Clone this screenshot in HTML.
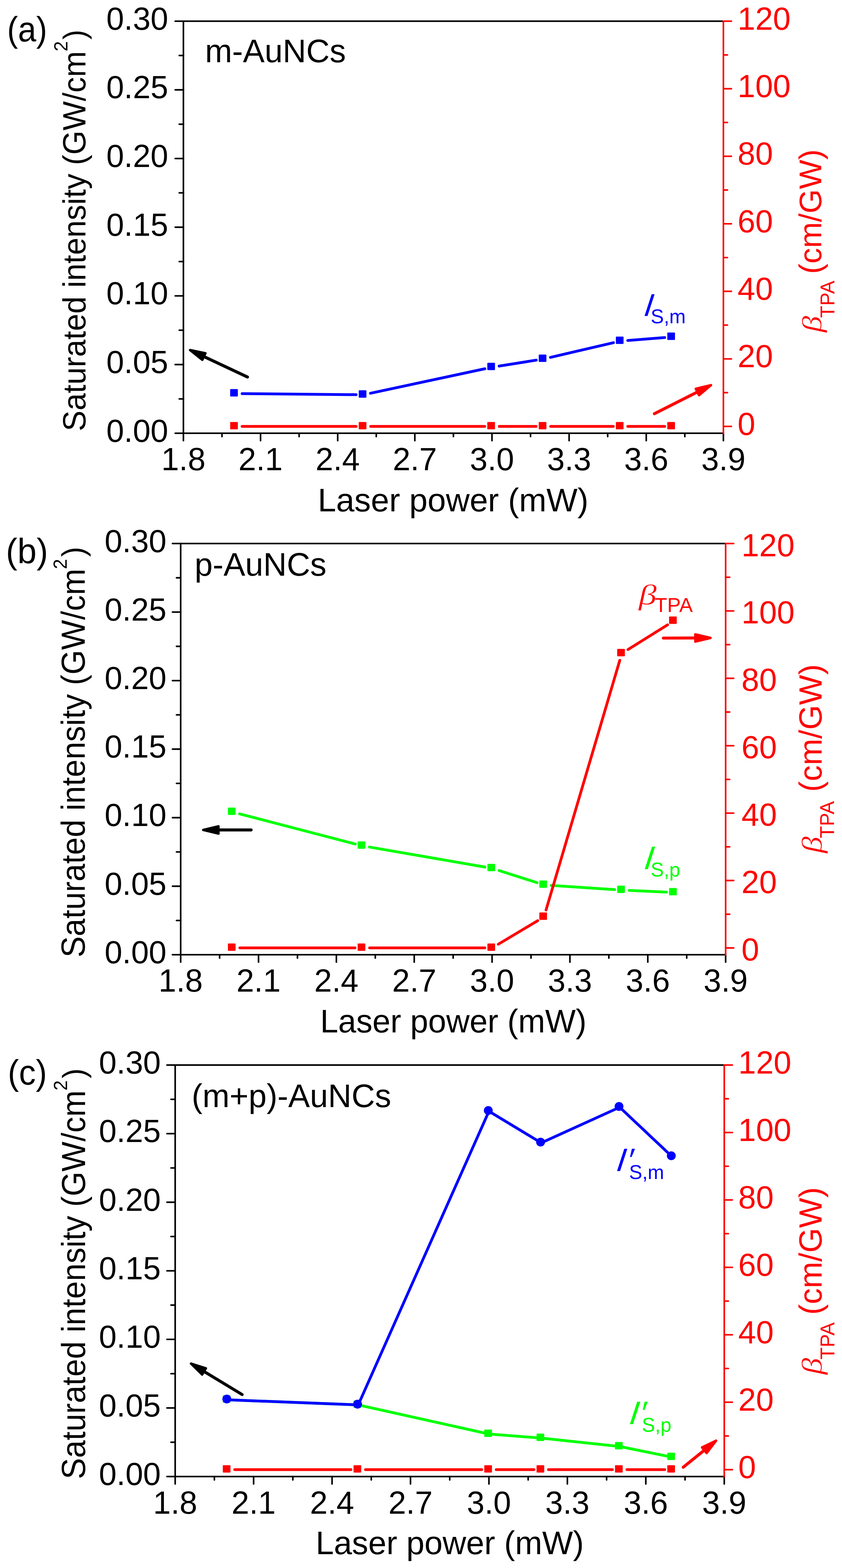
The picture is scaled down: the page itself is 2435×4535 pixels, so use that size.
<!DOCTYPE html>
<html><head><meta charset="utf-8"><title>Saturated intensity vs laser power</title>
<style>html,body{margin:0;padding:0;background:#fff;}svg{display:block;}</style>
</head><body>
<svg width="2435" height="4535" viewBox="0 0 2435 4535">
<rect width="2435" height="4535" fill="#fff"/>
<line x1="506.6" y1="1253" x2="530.4" y2="1253" stroke="#000000" stroke-width="4.6" stroke-linecap="round"/>
<text x="486.5" y="1277.5" font-family="'Liberation Sans', Arial, sans-serif" font-size="92" fill="#000000" text-anchor="end">0.00</text>
<line x1="506.6" y1="1054.38" x2="530.4" y2="1054.38" stroke="#000000" stroke-width="4.6" stroke-linecap="round"/>
<text x="486.5" y="1078.88" font-family="'Liberation Sans', Arial, sans-serif" font-size="92" fill="#000000" text-anchor="end">0.05</text>
<line x1="506.6" y1="855.75" x2="530.4" y2="855.75" stroke="#000000" stroke-width="4.6" stroke-linecap="round"/>
<text x="486.5" y="880.25" font-family="'Liberation Sans', Arial, sans-serif" font-size="92" fill="#000000" text-anchor="end">0.10</text>
<line x1="506.6" y1="657.12" x2="530.4" y2="657.12" stroke="#000000" stroke-width="4.6" stroke-linecap="round"/>
<text x="486.5" y="681.62" font-family="'Liberation Sans', Arial, sans-serif" font-size="92" fill="#000000" text-anchor="end">0.15</text>
<line x1="506.6" y1="458.5" x2="530.4" y2="458.5" stroke="#000000" stroke-width="4.6" stroke-linecap="round"/>
<text x="486.5" y="483" font-family="'Liberation Sans', Arial, sans-serif" font-size="92" fill="#000000" text-anchor="end">0.20</text>
<line x1="506.6" y1="259.88" x2="530.4" y2="259.88" stroke="#000000" stroke-width="4.6" stroke-linecap="round"/>
<text x="486.5" y="284.38" font-family="'Liberation Sans', Arial, sans-serif" font-size="92" fill="#000000" text-anchor="end">0.25</text>
<line x1="506.6" y1="61.25" x2="530.4" y2="61.25" stroke="#000000" stroke-width="4.6" stroke-linecap="round"/>
<text x="486.5" y="85.75" font-family="'Liberation Sans', Arial, sans-serif" font-size="92" fill="#000000" text-anchor="end">0.30</text>
<line x1="518.3" y1="1153.69" x2="530.4" y2="1153.69" stroke="#000000" stroke-width="4.6" stroke-linecap="round"/>
<line x1="518.3" y1="955.06" x2="530.4" y2="955.06" stroke="#000000" stroke-width="4.6" stroke-linecap="round"/>
<line x1="518.3" y1="756.44" x2="530.4" y2="756.44" stroke="#000000" stroke-width="4.6" stroke-linecap="round"/>
<line x1="518.3" y1="557.81" x2="530.4" y2="557.81" stroke="#000000" stroke-width="4.6" stroke-linecap="round"/>
<line x1="518.3" y1="359.19" x2="530.4" y2="359.19" stroke="#000000" stroke-width="4.6" stroke-linecap="round"/>
<line x1="518.3" y1="160.56" x2="530.4" y2="160.56" stroke="#000000" stroke-width="4.6" stroke-linecap="round"/>
<line x1="530.4" y1="1253" x2="530.4" y2="1274.4" stroke="#000000" stroke-width="4.6" stroke-linecap="round"/>
<text x="530.4" y="1360" font-family="'Liberation Sans', Arial, sans-serif" font-size="92" fill="#000000" text-anchor="middle">1.8</text>
<line x1="753.49" y1="1253" x2="753.49" y2="1274.4" stroke="#000000" stroke-width="4.6" stroke-linecap="round"/>
<text x="753.49" y="1360" font-family="'Liberation Sans', Arial, sans-serif" font-size="92" fill="#000000" text-anchor="middle">2.1</text>
<line x1="976.57" y1="1253" x2="976.57" y2="1274.4" stroke="#000000" stroke-width="4.6" stroke-linecap="round"/>
<text x="976.57" y="1360" font-family="'Liberation Sans', Arial, sans-serif" font-size="92" fill="#000000" text-anchor="middle">2.4</text>
<line x1="1199.66" y1="1253" x2="1199.66" y2="1274.4" stroke="#000000" stroke-width="4.6" stroke-linecap="round"/>
<text x="1199.66" y="1360" font-family="'Liberation Sans', Arial, sans-serif" font-size="92" fill="#000000" text-anchor="middle">2.7</text>
<line x1="1422.74" y1="1253" x2="1422.74" y2="1274.4" stroke="#000000" stroke-width="4.6" stroke-linecap="round"/>
<text x="1422.74" y="1360" font-family="'Liberation Sans', Arial, sans-serif" font-size="92" fill="#000000" text-anchor="middle">3.0</text>
<line x1="1645.83" y1="1253" x2="1645.83" y2="1274.4" stroke="#000000" stroke-width="4.6" stroke-linecap="round"/>
<text x="1645.83" y="1360" font-family="'Liberation Sans', Arial, sans-serif" font-size="92" fill="#000000" text-anchor="middle">3.3</text>
<line x1="1868.91" y1="1253" x2="1868.91" y2="1274.4" stroke="#000000" stroke-width="4.6" stroke-linecap="round"/>
<text x="1868.91" y="1360" font-family="'Liberation Sans', Arial, sans-serif" font-size="92" fill="#000000" text-anchor="middle">3.6</text>
<line x1="2092" y1="1253" x2="2092" y2="1274.4" stroke="#000000" stroke-width="4.6" stroke-linecap="round"/>
<text x="2092" y="1360" font-family="'Liberation Sans', Arial, sans-serif" font-size="92" fill="#000000" text-anchor="middle">3.9</text>
<line x1="641.94" y1="1253" x2="641.94" y2="1262.8" stroke="#000000" stroke-width="4.6" stroke-linecap="round"/>
<line x1="865.03" y1="1253" x2="865.03" y2="1262.8" stroke="#000000" stroke-width="4.6" stroke-linecap="round"/>
<line x1="1088.11" y1="1253" x2="1088.11" y2="1262.8" stroke="#000000" stroke-width="4.6" stroke-linecap="round"/>
<line x1="1311.2" y1="1253" x2="1311.2" y2="1262.8" stroke="#000000" stroke-width="4.6" stroke-linecap="round"/>
<line x1="1534.29" y1="1253" x2="1534.29" y2="1262.8" stroke="#000000" stroke-width="4.6" stroke-linecap="round"/>
<line x1="1757.37" y1="1253" x2="1757.37" y2="1262.8" stroke="#000000" stroke-width="4.6" stroke-linecap="round"/>
<line x1="1980.46" y1="1253" x2="1980.46" y2="1262.8" stroke="#000000" stroke-width="4.6" stroke-linecap="round"/>
<line x1="530.4" y1="61.25" x2="2092" y2="61.25" stroke="#000000" stroke-width="4.6" stroke-linecap="butt"/>
<line x1="530.4" y1="1253" x2="2092" y2="1253" stroke="#000000" stroke-width="4.6" stroke-linecap="butt"/>
<line x1="530.4" y1="58.95" x2="530.4" y2="1255.3" stroke="#000000" stroke-width="4.6" stroke-linecap="butt"/>
<line x1="2092" y1="1233.3" x2="2115.3" y2="1233.3" stroke="#ff0000" stroke-width="4.6" stroke-linecap="round"/>
<text x="2133" y="1257.6" font-family="'Liberation Sans', Arial, sans-serif" font-size="92" fill="#ff0000" text-anchor="start">0</text>
<line x1="2092" y1="1037.96" x2="2115.3" y2="1037.96" stroke="#ff0000" stroke-width="4.6" stroke-linecap="round"/>
<text x="2133" y="1062.26" font-family="'Liberation Sans', Arial, sans-serif" font-size="92" fill="#ff0000" text-anchor="start">20</text>
<line x1="2092" y1="842.62" x2="2115.3" y2="842.62" stroke="#ff0000" stroke-width="4.6" stroke-linecap="round"/>
<text x="2133" y="866.92" font-family="'Liberation Sans', Arial, sans-serif" font-size="92" fill="#ff0000" text-anchor="start">40</text>
<line x1="2092" y1="647.27" x2="2115.3" y2="647.27" stroke="#ff0000" stroke-width="4.6" stroke-linecap="round"/>
<text x="2133" y="671.57" font-family="'Liberation Sans', Arial, sans-serif" font-size="92" fill="#ff0000" text-anchor="start">60</text>
<line x1="2092" y1="451.93" x2="2115.3" y2="451.93" stroke="#ff0000" stroke-width="4.6" stroke-linecap="round"/>
<text x="2133" y="476.23" font-family="'Liberation Sans', Arial, sans-serif" font-size="92" fill="#ff0000" text-anchor="start">80</text>
<line x1="2092" y1="256.59" x2="2115.3" y2="256.59" stroke="#ff0000" stroke-width="4.6" stroke-linecap="round"/>
<text x="2133" y="280.89" font-family="'Liberation Sans', Arial, sans-serif" font-size="92" fill="#ff0000" text-anchor="start">100</text>
<line x1="2092" y1="61.25" x2="2115.3" y2="61.25" stroke="#ff0000" stroke-width="4.6" stroke-linecap="round"/>
<text x="2133" y="85.55" font-family="'Liberation Sans', Arial, sans-serif" font-size="92" fill="#ff0000" text-anchor="start">120</text>
<line x1="2092" y1="1135.63" x2="2103.7" y2="1135.63" stroke="#ff0000" stroke-width="4.6" stroke-linecap="round"/>
<line x1="2092" y1="940.29" x2="2103.7" y2="940.29" stroke="#ff0000" stroke-width="4.6" stroke-linecap="round"/>
<line x1="2092" y1="744.95" x2="2103.7" y2="744.95" stroke="#ff0000" stroke-width="4.6" stroke-linecap="round"/>
<line x1="2092" y1="549.6" x2="2103.7" y2="549.6" stroke="#ff0000" stroke-width="4.6" stroke-linecap="round"/>
<line x1="2092" y1="354.26" x2="2103.7" y2="354.26" stroke="#ff0000" stroke-width="4.6" stroke-linecap="round"/>
<line x1="2092" y1="158.92" x2="2103.7" y2="158.92" stroke="#ff0000" stroke-width="4.6" stroke-linecap="round"/>
<line x1="2092" y1="58.95" x2="2092" y2="1255.3" stroke="#ff0000" stroke-width="4.6" stroke-linecap="butt"/>
<text transform="translate(247.2,1247.3) rotate(-90) scale(1,1.04)" font-family="'Liberation Sans', Arial, sans-serif" font-size="89.94" fill="#000000">Saturated intensity (GW/cm</text>
<text transform="translate(195.2,148.68) rotate(-90) scale(1,1.04)" font-family="'Liberation Sans', Arial, sans-serif" font-size="53.57" fill="#000000">2</text>
<text transform="translate(246.3,114.57) rotate(-90) scale(1,1.04)" font-family="'Liberation Sans', Arial, sans-serif" font-size="85.83" fill="#000000">)</text>
<text transform="translate(2375.1,792.31) rotate(-90)" font-family="'Liberation Sans', Arial, sans-serif" font-size="90.1" fill="#ff0000">(cm/GW)</text>
<text transform="translate(2374.88,961.57) rotate(-90) scale(1.2,1)" font-family="'Liberation Serif', 'Times New Roman', serif" font-style="italic" font-size="80.55" fill="#ff0000" stroke="#fff" stroke-width="0.9">&#946;</text>
<text transform="translate(2412.8,919.25) rotate(-90)" font-family="'Liberation Sans', Arial, sans-serif" font-size="57.5" fill="#ff0000">TPA</text>
<text x="918.98" y="1478.5" font-family="'Liberation Sans', Arial, sans-serif" font-size="95.2" fill="#000000" text-anchor="start">Laser power (mW)</text>
<text transform="translate(20.4,119.6) scale(0.931,1)" font-family="'Liberation Sans', Arial, sans-serif" font-size="102" fill="#000000">(a)</text>
<text x="593" y="179.7" font-family="'Liberation Sans', Arial, sans-serif" font-size="94" fill="#000000" text-anchor="start">m-AuNCs</text>
<line x1="700.12" y1="1233.3" x2="1029.93" y2="1233.3" stroke="#ff0000" stroke-width="8.0" stroke-linecap="round"/>
<line x1="1071.93" y1="1233.3" x2="1401.74" y2="1233.3" stroke="#ff0000" stroke-width="8.0" stroke-linecap="round"/>
<line x1="1443.74" y1="1233.3" x2="1550.47" y2="1233.3" stroke="#ff0000" stroke-width="8.0" stroke-linecap="round"/>
<line x1="1592.47" y1="1233.3" x2="1773.55" y2="1233.3" stroke="#ff0000" stroke-width="8.0" stroke-linecap="round"/>
<line x1="1815.55" y1="1233.3" x2="1922.28" y2="1233.3" stroke="#ff0000" stroke-width="8.0" stroke-linecap="round"/>
<rect x="665.62" y="1220.4" width="22.2" height="21.4" rx="1.8" fill="#ff0000"/>
<rect x="1037.43" y="1220.4" width="22.2" height="21.4" rx="1.8" fill="#ff0000"/>
<rect x="1409.24" y="1220.4" width="22.2" height="21.4" rx="1.8" fill="#ff0000"/>
<rect x="1557.97" y="1220.4" width="22.2" height="21.4" rx="1.8" fill="#ff0000"/>
<rect x="1781.05" y="1220.4" width="22.2" height="21.4" rx="1.8" fill="#ff0000"/>
<rect x="1929.78" y="1220.4" width="22.2" height="21.4" rx="1.8" fill="#ff0000"/>
<line x1="700.12" y1="1138.4" x2="1029.93" y2="1141.5" stroke="#0000ff" stroke-width="8.0" stroke-linecap="round"/>
<line x1="1071.47" y1="1137.3" x2="1402.21" y2="1066.5" stroke="#0000ff" stroke-width="8.0" stroke-linecap="round"/>
<line x1="1443.48" y1="1058.78" x2="1550.73" y2="1041.62" stroke="#0000ff" stroke-width="8.0" stroke-linecap="round"/>
<line x1="1591.92" y1="1033.53" x2="1774.1" y2="991.07" stroke="#0000ff" stroke-width="8.0" stroke-linecap="round"/>
<line x1="1815.49" y1="984.67" x2="1922.34" y2="976.33" stroke="#0000ff" stroke-width="8.0" stroke-linecap="round"/>
<rect x="665.62" y="1125.3" width="22.2" height="21.4" rx="1.8" fill="#0000ff"/>
<rect x="1037.43" y="1128.8" width="22.2" height="21.4" rx="1.8" fill="#0000ff"/>
<rect x="1409.24" y="1049.2" width="22.2" height="21.4" rx="1.8" fill="#0000ff"/>
<rect x="1557.97" y="1025.4" width="22.2" height="21.4" rx="1.8" fill="#0000ff"/>
<rect x="1781.05" y="973.4" width="22.2" height="21.4" rx="1.8" fill="#0000ff"/>
<rect x="1929.78" y="961.8" width="22.2" height="21.4" rx="1.8" fill="#0000ff"/>
<text transform="translate(1855.44,913.5) skewX(-18)" font-family="'Liberation Sans', Arial, sans-serif" font-size="91.74" fill="#0000ff">I</text>
<text x="1881.65" y="935.3" font-family="'Liberation Sans', Arial, sans-serif" font-size="57" fill="#0000ff">S,m</text>
<line x1="715.8" y1="1090.5" x2="585.97" y2="1029.5" stroke="#000000" stroke-width="8.6" stroke-linecap="round"/>
<polygon points="549.77,1012.49 594.06,1021.7 585.13,1040.7" fill="#000000" stroke="#000000" stroke-width="7" stroke-linejoin="round"/>
<line x1="1892.3" y1="1196.6" x2="2020.47" y2="1131.9" stroke="#ff0000" stroke-width="8.6" stroke-linecap="round"/>
<polygon points="2056.18,1113.88 2021.63,1143.08 2012.16,1124.33" fill="#ff0000" stroke="#ff0000" stroke-width="7" stroke-linejoin="round"/>
<line x1="498.7" y1="2761.3" x2="522.5" y2="2761.3" stroke="#000000" stroke-width="4.6" stroke-linecap="round"/>
<text x="481.5" y="2785.8" font-family="'Liberation Sans', Arial, sans-serif" font-size="92" fill="#000000" text-anchor="end">0.00</text>
<line x1="498.7" y1="2563.08" x2="522.5" y2="2563.08" stroke="#000000" stroke-width="4.6" stroke-linecap="round"/>
<text x="481.5" y="2587.58" font-family="'Liberation Sans', Arial, sans-serif" font-size="92" fill="#000000" text-anchor="end">0.05</text>
<line x1="498.7" y1="2364.87" x2="522.5" y2="2364.87" stroke="#000000" stroke-width="4.6" stroke-linecap="round"/>
<text x="481.5" y="2389.37" font-family="'Liberation Sans', Arial, sans-serif" font-size="92" fill="#000000" text-anchor="end">0.10</text>
<line x1="498.7" y1="2166.65" x2="522.5" y2="2166.65" stroke="#000000" stroke-width="4.6" stroke-linecap="round"/>
<text x="481.5" y="2191.15" font-family="'Liberation Sans', Arial, sans-serif" font-size="92" fill="#000000" text-anchor="end">0.15</text>
<line x1="498.7" y1="1968.43" x2="522.5" y2="1968.43" stroke="#000000" stroke-width="4.6" stroke-linecap="round"/>
<text x="481.5" y="1992.93" font-family="'Liberation Sans', Arial, sans-serif" font-size="92" fill="#000000" text-anchor="end">0.20</text>
<line x1="498.7" y1="1770.22" x2="522.5" y2="1770.22" stroke="#000000" stroke-width="4.6" stroke-linecap="round"/>
<text x="481.5" y="1794.72" font-family="'Liberation Sans', Arial, sans-serif" font-size="92" fill="#000000" text-anchor="end">0.25</text>
<line x1="498.7" y1="1572" x2="522.5" y2="1572" stroke="#000000" stroke-width="4.6" stroke-linecap="round"/>
<text x="481.5" y="1596.5" font-family="'Liberation Sans', Arial, sans-serif" font-size="92" fill="#000000" text-anchor="end">0.30</text>
<line x1="510.4" y1="2662.19" x2="522.5" y2="2662.19" stroke="#000000" stroke-width="4.6" stroke-linecap="round"/>
<line x1="510.4" y1="2463.97" x2="522.5" y2="2463.97" stroke="#000000" stroke-width="4.6" stroke-linecap="round"/>
<line x1="510.4" y1="2265.76" x2="522.5" y2="2265.76" stroke="#000000" stroke-width="4.6" stroke-linecap="round"/>
<line x1="510.4" y1="2067.54" x2="522.5" y2="2067.54" stroke="#000000" stroke-width="4.6" stroke-linecap="round"/>
<line x1="510.4" y1="1869.33" x2="522.5" y2="1869.33" stroke="#000000" stroke-width="4.6" stroke-linecap="round"/>
<line x1="510.4" y1="1671.11" x2="522.5" y2="1671.11" stroke="#000000" stroke-width="4.6" stroke-linecap="round"/>
<line x1="522.5" y1="2761.3" x2="522.5" y2="2782.7" stroke="#000000" stroke-width="4.6" stroke-linecap="round"/>
<text x="522.5" y="2867.5" font-family="'Liberation Sans', Arial, sans-serif" font-size="92" fill="#000000" text-anchor="middle">1.8</text>
<line x1="747.64" y1="2761.3" x2="747.64" y2="2782.7" stroke="#000000" stroke-width="4.6" stroke-linecap="round"/>
<text x="747.64" y="2867.5" font-family="'Liberation Sans', Arial, sans-serif" font-size="92" fill="#000000" text-anchor="middle">2.1</text>
<line x1="972.79" y1="2761.3" x2="972.79" y2="2782.7" stroke="#000000" stroke-width="4.6" stroke-linecap="round"/>
<text x="972.79" y="2867.5" font-family="'Liberation Sans', Arial, sans-serif" font-size="92" fill="#000000" text-anchor="middle">2.4</text>
<line x1="1197.93" y1="2761.3" x2="1197.93" y2="2782.7" stroke="#000000" stroke-width="4.6" stroke-linecap="round"/>
<text x="1197.93" y="2867.5" font-family="'Liberation Sans', Arial, sans-serif" font-size="92" fill="#000000" text-anchor="middle">2.7</text>
<line x1="1423.07" y1="2761.3" x2="1423.07" y2="2782.7" stroke="#000000" stroke-width="4.6" stroke-linecap="round"/>
<text x="1423.07" y="2867.5" font-family="'Liberation Sans', Arial, sans-serif" font-size="92" fill="#000000" text-anchor="middle">3.0</text>
<line x1="1648.21" y1="2761.3" x2="1648.21" y2="2782.7" stroke="#000000" stroke-width="4.6" stroke-linecap="round"/>
<text x="1648.21" y="2867.5" font-family="'Liberation Sans', Arial, sans-serif" font-size="92" fill="#000000" text-anchor="middle">3.3</text>
<line x1="1873.36" y1="2761.3" x2="1873.36" y2="2782.7" stroke="#000000" stroke-width="4.6" stroke-linecap="round"/>
<text x="1873.36" y="2867.5" font-family="'Liberation Sans', Arial, sans-serif" font-size="92" fill="#000000" text-anchor="middle">3.6</text>
<line x1="2098.5" y1="2761.3" x2="2098.5" y2="2782.7" stroke="#000000" stroke-width="4.6" stroke-linecap="round"/>
<text x="2098.5" y="2867.5" font-family="'Liberation Sans', Arial, sans-serif" font-size="92" fill="#000000" text-anchor="middle">3.9</text>
<line x1="635.07" y1="2761.3" x2="635.07" y2="2771.1" stroke="#000000" stroke-width="4.6" stroke-linecap="round"/>
<line x1="860.21" y1="2761.3" x2="860.21" y2="2771.1" stroke="#000000" stroke-width="4.6" stroke-linecap="round"/>
<line x1="1085.36" y1="2761.3" x2="1085.36" y2="2771.1" stroke="#000000" stroke-width="4.6" stroke-linecap="round"/>
<line x1="1310.5" y1="2761.3" x2="1310.5" y2="2771.1" stroke="#000000" stroke-width="4.6" stroke-linecap="round"/>
<line x1="1535.64" y1="2761.3" x2="1535.64" y2="2771.1" stroke="#000000" stroke-width="4.6" stroke-linecap="round"/>
<line x1="1760.79" y1="2761.3" x2="1760.79" y2="2771.1" stroke="#000000" stroke-width="4.6" stroke-linecap="round"/>
<line x1="1985.93" y1="2761.3" x2="1985.93" y2="2771.1" stroke="#000000" stroke-width="4.6" stroke-linecap="round"/>
<line x1="522.5" y1="1572" x2="2098.5" y2="1572" stroke="#000000" stroke-width="4.6" stroke-linecap="butt"/>
<line x1="522.5" y1="2761.3" x2="2098.5" y2="2761.3" stroke="#000000" stroke-width="4.6" stroke-linecap="butt"/>
<line x1="522.5" y1="1569.7" x2="522.5" y2="2763.6" stroke="#000000" stroke-width="4.6" stroke-linecap="butt"/>
<line x1="2098.5" y1="2741.6" x2="2121.8" y2="2741.6" stroke="#ff0000" stroke-width="4.6" stroke-linecap="round"/>
<text x="2144.3" y="2778.1" font-family="'Liberation Sans', Arial, sans-serif" font-size="92" fill="#ff0000" text-anchor="start">0</text>
<line x1="2098.5" y1="2546.67" x2="2121.8" y2="2546.67" stroke="#ff0000" stroke-width="4.6" stroke-linecap="round"/>
<text x="2144.3" y="2583.17" font-family="'Liberation Sans', Arial, sans-serif" font-size="92" fill="#ff0000" text-anchor="start">20</text>
<line x1="2098.5" y1="2351.73" x2="2121.8" y2="2351.73" stroke="#ff0000" stroke-width="4.6" stroke-linecap="round"/>
<text x="2144.3" y="2388.23" font-family="'Liberation Sans', Arial, sans-serif" font-size="92" fill="#ff0000" text-anchor="start">40</text>
<line x1="2098.5" y1="2156.8" x2="2121.8" y2="2156.8" stroke="#ff0000" stroke-width="4.6" stroke-linecap="round"/>
<text x="2144.3" y="2193.3" font-family="'Liberation Sans', Arial, sans-serif" font-size="92" fill="#ff0000" text-anchor="start">60</text>
<line x1="2098.5" y1="1961.87" x2="2121.8" y2="1961.87" stroke="#ff0000" stroke-width="4.6" stroke-linecap="round"/>
<text x="2144.3" y="1998.37" font-family="'Liberation Sans', Arial, sans-serif" font-size="92" fill="#ff0000" text-anchor="start">80</text>
<line x1="2098.5" y1="1766.93" x2="2121.8" y2="1766.93" stroke="#ff0000" stroke-width="4.6" stroke-linecap="round"/>
<text x="2144.3" y="1803.43" font-family="'Liberation Sans', Arial, sans-serif" font-size="92" fill="#ff0000" text-anchor="start">100</text>
<line x1="2098.5" y1="1572" x2="2121.8" y2="1572" stroke="#ff0000" stroke-width="4.6" stroke-linecap="round"/>
<text x="2144.3" y="1608.5" font-family="'Liberation Sans', Arial, sans-serif" font-size="92" fill="#ff0000" text-anchor="start">120</text>
<line x1="2098.5" y1="2644.13" x2="2110.2" y2="2644.13" stroke="#ff0000" stroke-width="4.6" stroke-linecap="round"/>
<line x1="2098.5" y1="2449.2" x2="2110.2" y2="2449.2" stroke="#ff0000" stroke-width="4.6" stroke-linecap="round"/>
<line x1="2098.5" y1="2254.27" x2="2110.2" y2="2254.27" stroke="#ff0000" stroke-width="4.6" stroke-linecap="round"/>
<line x1="2098.5" y1="2059.33" x2="2110.2" y2="2059.33" stroke="#ff0000" stroke-width="4.6" stroke-linecap="round"/>
<line x1="2098.5" y1="1864.4" x2="2110.2" y2="1864.4" stroke="#ff0000" stroke-width="4.6" stroke-linecap="round"/>
<line x1="2098.5" y1="1669.47" x2="2110.2" y2="1669.47" stroke="#ff0000" stroke-width="4.6" stroke-linecap="round"/>
<line x1="2098.5" y1="1569.7" x2="2098.5" y2="2763.6" stroke="#ff0000" stroke-width="4.6" stroke-linecap="butt"/>
<text transform="translate(244.5,2769.3) rotate(-90) scale(1,1.04)" font-family="'Liberation Sans', Arial, sans-serif" font-size="92" fill="#000000">Saturated intensity (GW/cm</text>
<text transform="translate(192.6,1646.17) rotate(-90) scale(1,1.04)" font-family="'Liberation Sans', Arial, sans-serif" font-size="53.43" fill="#000000">2</text>
<text transform="translate(243.4,1610.39) rotate(-90) scale(1,1.04)" font-family="'Liberation Sans', Arial, sans-serif" font-size="87.38" fill="#000000">)</text>
<text transform="translate(2375.9,2290.24) rotate(-90)" font-family="'Liberation Sans', Arial, sans-serif" font-size="92.32" fill="#ff0000">(cm/GW)</text>
<text transform="translate(2375.58,2467.64) rotate(-90) scale(1.2,1)" font-family="'Liberation Serif', 'Times New Roman', serif" font-style="italic" font-size="81.54" fill="#ff0000" stroke="#fff" stroke-width="0.9">&#946;</text>
<text transform="translate(2412.1,2424.35) rotate(-90)" font-family="'Liberation Sans', Arial, sans-serif" font-size="57.5" fill="#ff0000">TPA</text>
<text x="926.01" y="2985.6" font-family="'Liberation Sans', Arial, sans-serif" font-size="93.65" fill="#000000" text-anchor="start">Laser power (mW)</text>
<text transform="translate(16.9,1628.9) scale(0.979,1)" font-family="'Liberation Sans', Arial, sans-serif" font-size="102" fill="#000000">(b)</text>
<text x="562.8" y="1665" font-family="'Liberation Sans', Arial, sans-serif" font-size="94" fill="#000000" text-anchor="start">p-AuNCs</text>
<line x1="692.92" y1="2353.89" x2="1027.51" y2="2441.01" stroke="#00ff00" stroke-width="8.0" stroke-linecap="round"/>
<line x1="1068.53" y1="2449.88" x2="1402.38" y2="2507.72" stroke="#00ff00" stroke-width="8.0" stroke-linecap="round"/>
<line x1="1443.07" y1="2517.7" x2="1553.16" y2="2552.9" stroke="#00ff00" stroke-width="8.0" stroke-linecap="round"/>
<line x1="1594.12" y1="2560.7" x2="1777.36" y2="2572.9" stroke="#00ff00" stroke-width="8.0" stroke-linecap="round"/>
<line x1="1819.29" y1="2575.25" x2="1927.43" y2="2580.15" stroke="#00ff00" stroke-width="8.0" stroke-linecap="round"/>
<rect x="659.1" y="2335.7" width="22.2" height="21.4" rx="1.8" fill="#00ff00"/>
<rect x="1034.33" y="2433.4" width="22.2" height="21.4" rx="1.8" fill="#00ff00"/>
<rect x="1409.57" y="2498.4" width="22.2" height="21.4" rx="1.8" fill="#00ff00"/>
<rect x="1559.67" y="2546.4" width="22.2" height="21.4" rx="1.8" fill="#00ff00"/>
<rect x="1784.81" y="2561.4" width="22.2" height="21.4" rx="1.8" fill="#00ff00"/>
<rect x="1934.9" y="2568.2" width="22.2" height="21.4" rx="1.8" fill="#00ff00"/>
<line x1="693.6" y1="2741.6" x2="1026.83" y2="2741.6" stroke="#ff0000" stroke-width="8.0" stroke-linecap="round"/>
<line x1="1068.83" y1="2741.6" x2="1402.07" y2="2741.6" stroke="#ff0000" stroke-width="8.0" stroke-linecap="round"/>
<line x1="1441.1" y1="2730.84" x2="1555.14" y2="2662.76" stroke="#ff0000" stroke-width="8.0" stroke-linecap="round"/>
<line x1="1579.11" y1="2631.86" x2="1792.36" y2="1909.84" stroke="#ff0000" stroke-width="8.0" stroke-linecap="round"/>
<line x1="1816.12" y1="1878.58" x2="1930.59" y2="1807.12" stroke="#ff0000" stroke-width="8.0" stroke-linecap="round"/>
<rect x="659.1" y="2728.7" width="22.2" height="21.4" rx="1.8" fill="#ff0000"/>
<rect x="1034.33" y="2728.7" width="22.2" height="21.4" rx="1.8" fill="#ff0000"/>
<rect x="1409.57" y="2728.7" width="22.2" height="21.4" rx="1.8" fill="#ff0000"/>
<rect x="1559.67" y="2639.1" width="22.2" height="21.4" rx="1.8" fill="#ff0000"/>
<rect x="1784.81" y="1876.8" width="22.2" height="21.4" rx="1.8" fill="#ff0000"/>
<rect x="1934.9" y="1783.1" width="22.2" height="21.4" rx="1.8" fill="#ff0000"/>
<text transform="translate(1855.77,2513.5) skewX(-18)" font-family="'Liberation Sans', Arial, sans-serif" font-size="94.78" fill="#00ff00">I</text>
<text x="1881.65" y="2535.4" font-family="'Liberation Sans', Arial, sans-serif" font-size="57" fill="#00ff00">S,p</text>
<text transform="translate(1846.9,1747.6) scale(1.27,1)" font-family="'Liberation Serif', 'Times New Roman', serif" font-style="italic" font-size="82.2" fill="#ff0000" stroke="#fff" stroke-width="0.9">&#946;</text>
<text transform="translate(1893.6,1769.8) scale(1.027,1)" font-family="'Liberation Sans', Arial, sans-serif" font-size="57.2" fill="#ff0000">TPA</text>
<line x1="726.3" y1="2400.4" x2="627.7" y2="2400.4" stroke="#000000" stroke-width="8.6" stroke-linecap="round"/>
<polygon points="587.7,2400.4 631.7,2389.9 631.7,2410.9" fill="#000000" stroke="#000000" stroke-width="7" stroke-linejoin="round"/>
<line x1="1918.3" y1="1845.5" x2="2014.8" y2="1845.16" stroke="#ff0000" stroke-width="8.6" stroke-linecap="round"/>
<polygon points="2054.8,1845.01 2010.84,1855.67 2010.76,1834.67" fill="#ff0000" stroke="#ff0000" stroke-width="7" stroke-linejoin="round"/>
<line x1="482.8" y1="4270.5" x2="506.6" y2="4270.5" stroke="#000000" stroke-width="4.6" stroke-linecap="round"/>
<text x="465" y="4295" font-family="'Liberation Sans', Arial, sans-serif" font-size="92" fill="#000000" text-anchor="end">0.00</text>
<line x1="482.8" y1="4072.15" x2="506.6" y2="4072.15" stroke="#000000" stroke-width="4.6" stroke-linecap="round"/>
<text x="465" y="4096.65" font-family="'Liberation Sans', Arial, sans-serif" font-size="92" fill="#000000" text-anchor="end">0.05</text>
<line x1="482.8" y1="3873.8" x2="506.6" y2="3873.8" stroke="#000000" stroke-width="4.6" stroke-linecap="round"/>
<text x="465" y="3898.3" font-family="'Liberation Sans', Arial, sans-serif" font-size="92" fill="#000000" text-anchor="end">0.10</text>
<line x1="482.8" y1="3675.45" x2="506.6" y2="3675.45" stroke="#000000" stroke-width="4.6" stroke-linecap="round"/>
<text x="465" y="3699.95" font-family="'Liberation Sans', Arial, sans-serif" font-size="92" fill="#000000" text-anchor="end">0.15</text>
<line x1="482.8" y1="3477.1" x2="506.6" y2="3477.1" stroke="#000000" stroke-width="4.6" stroke-linecap="round"/>
<text x="465" y="3501.6" font-family="'Liberation Sans', Arial, sans-serif" font-size="92" fill="#000000" text-anchor="end">0.20</text>
<line x1="482.8" y1="3278.75" x2="506.6" y2="3278.75" stroke="#000000" stroke-width="4.6" stroke-linecap="round"/>
<text x="465" y="3303.25" font-family="'Liberation Sans', Arial, sans-serif" font-size="92" fill="#000000" text-anchor="end">0.25</text>
<line x1="482.8" y1="3080.4" x2="506.6" y2="3080.4" stroke="#000000" stroke-width="4.6" stroke-linecap="round"/>
<text x="465" y="3104.9" font-family="'Liberation Sans', Arial, sans-serif" font-size="92" fill="#000000" text-anchor="end">0.30</text>
<line x1="494.5" y1="4171.32" x2="506.6" y2="4171.32" stroke="#000000" stroke-width="4.6" stroke-linecap="round"/>
<line x1="494.5" y1="3972.97" x2="506.6" y2="3972.97" stroke="#000000" stroke-width="4.6" stroke-linecap="round"/>
<line x1="494.5" y1="3774.62" x2="506.6" y2="3774.62" stroke="#000000" stroke-width="4.6" stroke-linecap="round"/>
<line x1="494.5" y1="3576.28" x2="506.6" y2="3576.28" stroke="#000000" stroke-width="4.6" stroke-linecap="round"/>
<line x1="494.5" y1="3377.93" x2="506.6" y2="3377.93" stroke="#000000" stroke-width="4.6" stroke-linecap="round"/>
<line x1="494.5" y1="3179.57" x2="506.6" y2="3179.57" stroke="#000000" stroke-width="4.6" stroke-linecap="round"/>
<line x1="506.6" y1="4270.5" x2="506.6" y2="4291.9" stroke="#000000" stroke-width="4.6" stroke-linecap="round"/>
<text x="506.6" y="4378" font-family="'Liberation Sans', Arial, sans-serif" font-size="92" fill="#000000" text-anchor="middle">1.8</text>
<line x1="733.44" y1="4270.5" x2="733.44" y2="4291.9" stroke="#000000" stroke-width="4.6" stroke-linecap="round"/>
<text x="733.44" y="4378" font-family="'Liberation Sans', Arial, sans-serif" font-size="92" fill="#000000" text-anchor="middle">2.1</text>
<line x1="960.29" y1="4270.5" x2="960.29" y2="4291.9" stroke="#000000" stroke-width="4.6" stroke-linecap="round"/>
<text x="960.29" y="4378" font-family="'Liberation Sans', Arial, sans-serif" font-size="92" fill="#000000" text-anchor="middle">2.4</text>
<line x1="1187.13" y1="4270.5" x2="1187.13" y2="4291.9" stroke="#000000" stroke-width="4.6" stroke-linecap="round"/>
<text x="1187.13" y="4378" font-family="'Liberation Sans', Arial, sans-serif" font-size="92" fill="#000000" text-anchor="middle">2.7</text>
<line x1="1413.97" y1="4270.5" x2="1413.97" y2="4291.9" stroke="#000000" stroke-width="4.6" stroke-linecap="round"/>
<text x="1413.97" y="4378" font-family="'Liberation Sans', Arial, sans-serif" font-size="92" fill="#000000" text-anchor="middle">3.0</text>
<line x1="1640.81" y1="4270.5" x2="1640.81" y2="4291.9" stroke="#000000" stroke-width="4.6" stroke-linecap="round"/>
<text x="1640.81" y="4378" font-family="'Liberation Sans', Arial, sans-serif" font-size="92" fill="#000000" text-anchor="middle">3.3</text>
<line x1="1867.66" y1="4270.5" x2="1867.66" y2="4291.9" stroke="#000000" stroke-width="4.6" stroke-linecap="round"/>
<text x="1867.66" y="4378" font-family="'Liberation Sans', Arial, sans-serif" font-size="92" fill="#000000" text-anchor="middle">3.6</text>
<line x1="2094.5" y1="4270.5" x2="2094.5" y2="4291.9" stroke="#000000" stroke-width="4.6" stroke-linecap="round"/>
<text x="2094.5" y="4378" font-family="'Liberation Sans', Arial, sans-serif" font-size="92" fill="#000000" text-anchor="middle">3.9</text>
<line x1="620.02" y1="4270.5" x2="620.02" y2="4280.3" stroke="#000000" stroke-width="4.6" stroke-linecap="round"/>
<line x1="846.86" y1="4270.5" x2="846.86" y2="4280.3" stroke="#000000" stroke-width="4.6" stroke-linecap="round"/>
<line x1="1073.71" y1="4270.5" x2="1073.71" y2="4280.3" stroke="#000000" stroke-width="4.6" stroke-linecap="round"/>
<line x1="1300.55" y1="4270.5" x2="1300.55" y2="4280.3" stroke="#000000" stroke-width="4.6" stroke-linecap="round"/>
<line x1="1527.39" y1="4270.5" x2="1527.39" y2="4280.3" stroke="#000000" stroke-width="4.6" stroke-linecap="round"/>
<line x1="1754.24" y1="4270.5" x2="1754.24" y2="4280.3" stroke="#000000" stroke-width="4.6" stroke-linecap="round"/>
<line x1="1981.08" y1="4270.5" x2="1981.08" y2="4280.3" stroke="#000000" stroke-width="4.6" stroke-linecap="round"/>
<line x1="506.6" y1="3080.4" x2="2094.5" y2="3080.4" stroke="#000000" stroke-width="4.6" stroke-linecap="butt"/>
<line x1="506.6" y1="4270.5" x2="2094.5" y2="4270.5" stroke="#000000" stroke-width="4.6" stroke-linecap="butt"/>
<line x1="506.6" y1="3078.1" x2="506.6" y2="4272.8" stroke="#000000" stroke-width="4.6" stroke-linecap="butt"/>
<line x1="2094.5" y1="4250.6" x2="2117.8" y2="4250.6" stroke="#ff0000" stroke-width="4.6" stroke-linecap="round"/>
<text x="2135" y="4274.9" font-family="'Liberation Sans', Arial, sans-serif" font-size="92" fill="#ff0000" text-anchor="start">0</text>
<line x1="2094.5" y1="4055.57" x2="2117.8" y2="4055.57" stroke="#ff0000" stroke-width="4.6" stroke-linecap="round"/>
<text x="2135" y="4079.87" font-family="'Liberation Sans', Arial, sans-serif" font-size="92" fill="#ff0000" text-anchor="start">20</text>
<line x1="2094.5" y1="3860.53" x2="2117.8" y2="3860.53" stroke="#ff0000" stroke-width="4.6" stroke-linecap="round"/>
<text x="2135" y="3884.83" font-family="'Liberation Sans', Arial, sans-serif" font-size="92" fill="#ff0000" text-anchor="start">40</text>
<line x1="2094.5" y1="3665.5" x2="2117.8" y2="3665.5" stroke="#ff0000" stroke-width="4.6" stroke-linecap="round"/>
<text x="2135" y="3689.8" font-family="'Liberation Sans', Arial, sans-serif" font-size="92" fill="#ff0000" text-anchor="start">60</text>
<line x1="2094.5" y1="3470.47" x2="2117.8" y2="3470.47" stroke="#ff0000" stroke-width="4.6" stroke-linecap="round"/>
<text x="2135" y="3494.77" font-family="'Liberation Sans', Arial, sans-serif" font-size="92" fill="#ff0000" text-anchor="start">80</text>
<line x1="2094.5" y1="3275.43" x2="2117.8" y2="3275.43" stroke="#ff0000" stroke-width="4.6" stroke-linecap="round"/>
<text x="2135" y="3299.73" font-family="'Liberation Sans', Arial, sans-serif" font-size="92" fill="#ff0000" text-anchor="start">100</text>
<line x1="2094.5" y1="3080.4" x2="2117.8" y2="3080.4" stroke="#ff0000" stroke-width="4.6" stroke-linecap="round"/>
<text x="2135" y="3104.7" font-family="'Liberation Sans', Arial, sans-serif" font-size="92" fill="#ff0000" text-anchor="start">120</text>
<line x1="2094.5" y1="4153.08" x2="2106.2" y2="4153.08" stroke="#ff0000" stroke-width="4.6" stroke-linecap="round"/>
<line x1="2094.5" y1="3958.05" x2="2106.2" y2="3958.05" stroke="#ff0000" stroke-width="4.6" stroke-linecap="round"/>
<line x1="2094.5" y1="3763.02" x2="2106.2" y2="3763.02" stroke="#ff0000" stroke-width="4.6" stroke-linecap="round"/>
<line x1="2094.5" y1="3567.98" x2="2106.2" y2="3567.98" stroke="#ff0000" stroke-width="4.6" stroke-linecap="round"/>
<line x1="2094.5" y1="3372.95" x2="2106.2" y2="3372.95" stroke="#ff0000" stroke-width="4.6" stroke-linecap="round"/>
<line x1="2094.5" y1="3177.92" x2="2106.2" y2="3177.92" stroke="#ff0000" stroke-width="4.6" stroke-linecap="round"/>
<line x1="2094.5" y1="3078.1" x2="2094.5" y2="4272.8" stroke="#ff0000" stroke-width="4.6" stroke-linecap="butt"/>
<text transform="translate(246.3,4278.2) rotate(-90) scale(1,1.04)" font-family="'Liberation Sans', Arial, sans-serif" font-size="92.02" fill="#000000">Saturated intensity (GW/cm</text>
<text transform="translate(193.6,3154.27) rotate(-90) scale(1,1.04)" font-family="'Liberation Sans', Arial, sans-serif" font-size="53.43" fill="#000000">2</text>
<text transform="translate(244.9,3118.99) rotate(-90) scale(1,1.04)" font-family="'Liberation Sans', Arial, sans-serif" font-size="87.38" fill="#000000">)</text>
<text transform="translate(2375.9,3802.84) rotate(-90)" font-family="'Liberation Sans', Arial, sans-serif" font-size="92.35" fill="#ff0000">(cm/GW)</text>
<text transform="translate(2375.58,3975.64) rotate(-90) scale(1.2,1)" font-family="'Liberation Serif', 'Times New Roman', serif" font-style="italic" font-size="81.54" fill="#ff0000" stroke="#fff" stroke-width="0.9">&#946;</text>
<text transform="translate(2412.8,3931.95) rotate(-90)" font-family="'Liberation Sans', Arial, sans-serif" font-size="57.5" fill="#ff0000">TPA</text>
<text x="912.96" y="4495" font-family="'Liberation Sans', Arial, sans-serif" font-size="94.3" fill="#000000" text-anchor="start">Laser power (mW)</text>
<text transform="translate(22.5,3136.5) scale(0.953,1)" font-family="'Liberation Sans', Arial, sans-serif" font-size="102" fill="#000000">(c)</text>
<text x="554.2" y="3202" font-family="'Liberation Sans', Arial, sans-serif" font-size="94" fill="#000000" text-anchor="start">(m+p)-AuNCs</text>
<line x1="678.83" y1="4250.6" x2="1014.9" y2="4250.6" stroke="#ff0000" stroke-width="8.0" stroke-linecap="round"/>
<line x1="1056.9" y1="4250.6" x2="1392.97" y2="4250.6" stroke="#ff0000" stroke-width="8.0" stroke-linecap="round"/>
<line x1="1434.97" y1="4250.6" x2="1544.2" y2="4250.6" stroke="#ff0000" stroke-width="8.0" stroke-linecap="round"/>
<line x1="1586.2" y1="4250.6" x2="1771.04" y2="4250.6" stroke="#ff0000" stroke-width="8.0" stroke-linecap="round"/>
<line x1="1813.04" y1="4250.6" x2="1922.27" y2="4250.6" stroke="#ff0000" stroke-width="8.0" stroke-linecap="round"/>
<rect x="644.33" y="4237.7" width="22.2" height="21.4" rx="1.8" fill="#ff0000"/>
<rect x="1022.4" y="4237.7" width="22.2" height="21.4" rx="1.8" fill="#ff0000"/>
<rect x="1400.47" y="4237.7" width="22.2" height="21.4" rx="1.8" fill="#ff0000"/>
<rect x="1551.7" y="4237.7" width="22.2" height="21.4" rx="1.8" fill="#ff0000"/>
<rect x="1778.54" y="4237.7" width="22.2" height="21.4" rx="1.8" fill="#ff0000"/>
<rect x="1929.77" y="4237.7" width="22.2" height="21.4" rx="1.8" fill="#ff0000"/>
<line x1="657.83" y1="4048.5" x2="1035.9" y2="4063.3" stroke="#00ff00" stroke-width="8.0" stroke-linecap="round"/>
<line x1="1035.9" y1="4063.3" x2="1413.97" y2="4147.5" stroke="#00ff00" stroke-width="8.0" stroke-linecap="round"/>
<line x1="1413.97" y1="4147.5" x2="1565.2" y2="4159.2" stroke="#00ff00" stroke-width="8.0" stroke-linecap="round"/>
<line x1="1565.2" y1="4159.2" x2="1792.04" y2="4183.5" stroke="#00ff00" stroke-width="8.0" stroke-linecap="round"/>
<line x1="1792.04" y1="4183.5" x2="1943.27" y2="4214.3" stroke="#00ff00" stroke-width="8.0" stroke-linecap="round"/>
<rect x="644.33" y="4035.6" width="22.2" height="21.4" rx="1.8" fill="#00ff00"/>
<rect x="1022.4" y="4050.4" width="22.2" height="21.4" rx="1.8" fill="#00ff00"/>
<rect x="1400.47" y="4134.6" width="22.2" height="21.4" rx="1.8" fill="#00ff00"/>
<rect x="1551.7" y="4146.3" width="22.2" height="21.4" rx="1.8" fill="#00ff00"/>
<rect x="1778.54" y="4170.6" width="22.2" height="21.4" rx="1.8" fill="#00ff00"/>
<rect x="1929.77" y="4201.4" width="22.2" height="21.4" rx="1.8" fill="#00ff00"/>
<line x1="657.83" y1="4048.5" x2="1035.9" y2="4063.3" stroke="#0000ff" stroke-width="8.0" stroke-linecap="round"/>
<line x1="1035.9" y1="4063.3" x2="1413.97" y2="3214" stroke="#0000ff" stroke-width="8.0" stroke-linecap="round"/>
<line x1="1413.97" y1="3214" x2="1565.2" y2="3305.4" stroke="#0000ff" stroke-width="8.0" stroke-linecap="round"/>
<line x1="1565.2" y1="3305.4" x2="1792.04" y2="3202.3" stroke="#0000ff" stroke-width="8.0" stroke-linecap="round"/>
<line x1="1792.04" y1="3202.3" x2="1943.27" y2="3345" stroke="#0000ff" stroke-width="8.0" stroke-linecap="round"/>
<circle cx="655.93" cy="4046.3" r="12.8" fill="#0000ff"/>
<circle cx="1034" cy="4061.1" r="12.8" fill="#0000ff"/>
<circle cx="1412.07" cy="3211.8" r="12.8" fill="#0000ff"/>
<circle cx="1563.3" cy="3303.2" r="12.8" fill="#0000ff"/>
<circle cx="1790.14" cy="3200.1" r="12.8" fill="#0000ff"/>
<circle cx="1941.37" cy="3342.8" r="12.8" fill="#0000ff"/>
<text transform="translate(1775.65,3387.3) skewX(-18)" font-family="'Liberation Sans', Arial, sans-serif" font-size="93.91" fill="#0000ff">I</text>
<text transform="translate(1813.74,3387.3) skewX(-6)" font-family="'Liberation Sans', Arial, sans-serif" font-size="93.91" fill="#0000ff">&#8242;</text>
<text x="1819.25" y="3409.8" font-family="'Liberation Sans', Arial, sans-serif" font-size="57" fill="#0000ff">S,m</text>
<text transform="translate(1812.88,4119.2) skewX(-18)" font-family="'Liberation Sans', Arial, sans-serif" font-size="94.64" fill="#00ff00">I</text>
<text transform="translate(1850.61,4119.2) skewX(-6)" font-family="'Liberation Sans', Arial, sans-serif" font-size="94.64" fill="#00ff00">&#8242;</text>
<text x="1856.15" y="4141.3" font-family="'Liberation Sans', Arial, sans-serif" font-size="57" fill="#00ff00">S,p</text>
<line x1="700.3" y1="4033.4" x2="586.6" y2="3964.45" stroke="#000000" stroke-width="8.6" stroke-linecap="round"/>
<polygon points="552.39,3943.71 595.46,3957.55 584.57,3975.51" fill="#000000" stroke="#000000" stroke-width="7" stroke-linejoin="round"/>
<line x1="1975.7" y1="4243.7" x2="2039.95" y2="4191.83" stroke="#ff0000" stroke-width="8.6" stroke-linecap="round"/>
<polygon points="2071.08,4166.7 2043.44,4202.51 2030.25,4186.17" fill="#ff0000" stroke="#ff0000" stroke-width="7" stroke-linejoin="round"/>
</svg>
</body></html>
